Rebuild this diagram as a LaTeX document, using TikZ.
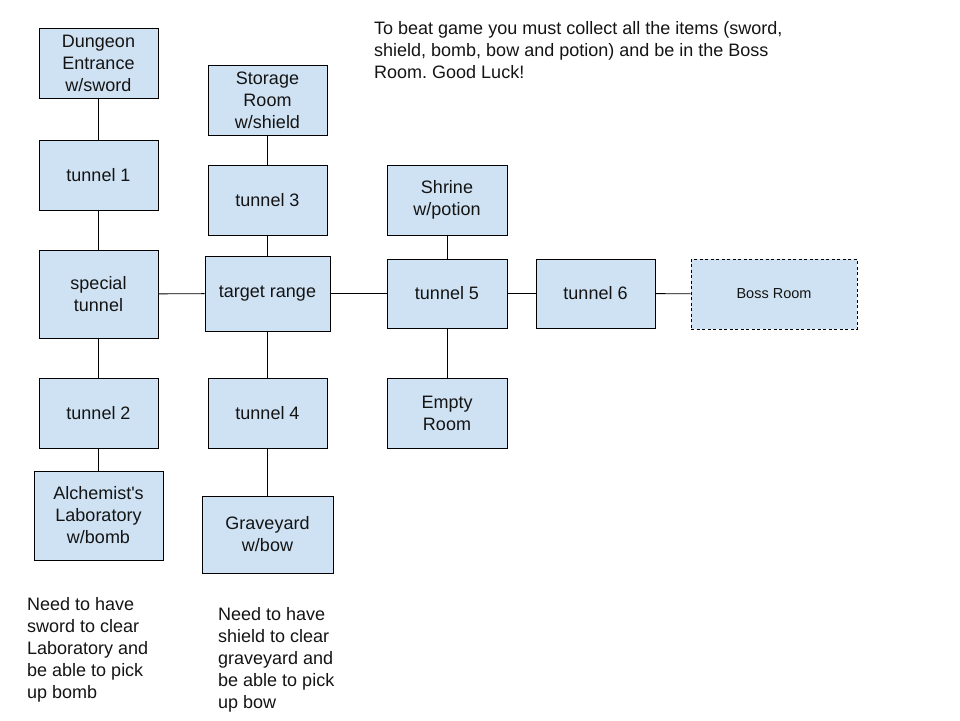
\documentclass[tikz,border=0pt]{standalone}
\usepackage{fontspec}
\setmainfont{Liberation Sans}
\usepackage{xcolor}
\definecolor{roomfill}{RGB}{207,226,243}
\definecolor{inktext}{RGB}{20,20,20}
\usepackage{tikz}
\usetikzlibrary{positioning}
\frenchspacing

\begin{document}
\begin{tikzpicture}[x=1pt, y=-1pt,
    room/.style={rectangle, draw, fill=roomfill, line width=0.9pt, align=center, text=inktext, minimum width=119pt, minimum height=70pt, inner sep=0pt, yshift=0pt, font=\fontsize{18}{22}\selectfont},
    bossroom/.style={room, dashed, dash pattern=on 3pt off 2.5pt, minimum width=166pt, font=\fontsize{14.5}{17}\selectfont},
    note/.style={align=left, anchor=north west, inner sep=0pt, text=inktext, font=\fontsize{18}{22}\selectfont},
    line/.style={draw, line width=0.9pt}]
    \useasboundingbox (0,0) rectangle (960,720);

    % Left column
    \node [room] (entrance) at (98.5,63) {Dungeon\\Entrance\\w/sword};
    \node [room] (tunnelone) at (98.5,175) {tunnel 1};
    \node [room, minimum height=88pt] (special) at (98.5,294) {special\\tunnel};
    \node [room] (tunneltwo) at (98.5,413) {tunnel 2};
    \node [room, minimum width=129pt, minimum height=89pt] (lab) at (98.5,515.5) {Alchemist\textquotesingle s\\Laboratory\\w/bomb};

    % Middle column
    \node [room] (storage) at (267.5,100) {Storage\\Room\\w/shield};
    \node [room] (tunnelthree) at (267.5,200) {tunnel 3};
    \node [room, minimum width=125pt, minimum height=75pt] (range) at (267.5,293.5) {target range};
    \node [room] (tunnelfour) at (267.5,413) {tunnel 4};
    \node [room, minimum width=131pt, minimum height=77pt] (graveyard) at (267.5,534.5) {Graveyard\\w/bow};

    % Right side
    \node [room, minimum width=120pt] (shrine) at (447,200) {Shrine\\w/potion};
    \node [room, minimum width=120pt, minimum height=69pt] (tunnelfive) at (447,293.5) {tunnel 5};
    \node [room, minimum width=120pt] (empty) at (447,413) {Empty\\Room};
    \node [room, minimum height=69pt] (tunnelsix) at (595.5,293.5) {tunnel 6};
    \node [bossroom] (boss) at (774,294) {Boss Room};

    % Connections
    \path [line] (entrance) -- (tunnelone);
    \path [line] (tunnelone) -- (special);
    \path [line] (special) -- (tunneltwo);
    \path [line] (tunneltwo) -- (lab);
    \path [line] (storage) -- (tunnelthree);
    \path [line] (tunnelthree) -- (range);
    \path [line] (range) -- (tunnelfour);
    \path [line] (tunnelfour) -- (graveyard);
    \path [line] (special) -- (range);
    \path [line] (range) -- (tunnelfive);
    \path [line] (shrine) -- (tunnelfive);
    \path [line] (tunnelfive) -- (empty);
    \path [line] (tunnelfive) -- (tunnelsix);
    \path [line] (tunnelsix) -- (boss);

    % Notes
    \node [note] (goal) at (374,21) {To beat game you must collect all the items (sword,\\shield, bomb, bow and potion) and be in the Boss\\Room. Good Luck!};
    \node [note] (labnote) at (27,597) {Need to have\\sword to clear\\Laboratory and\\be able to pick\\up bomb};
    \node [note] (gravenote) at (218,607) {Need to have\\shield to clear\\graveyard and\\be able to pick\\up bow};
\end{tikzpicture}
\end{document}
